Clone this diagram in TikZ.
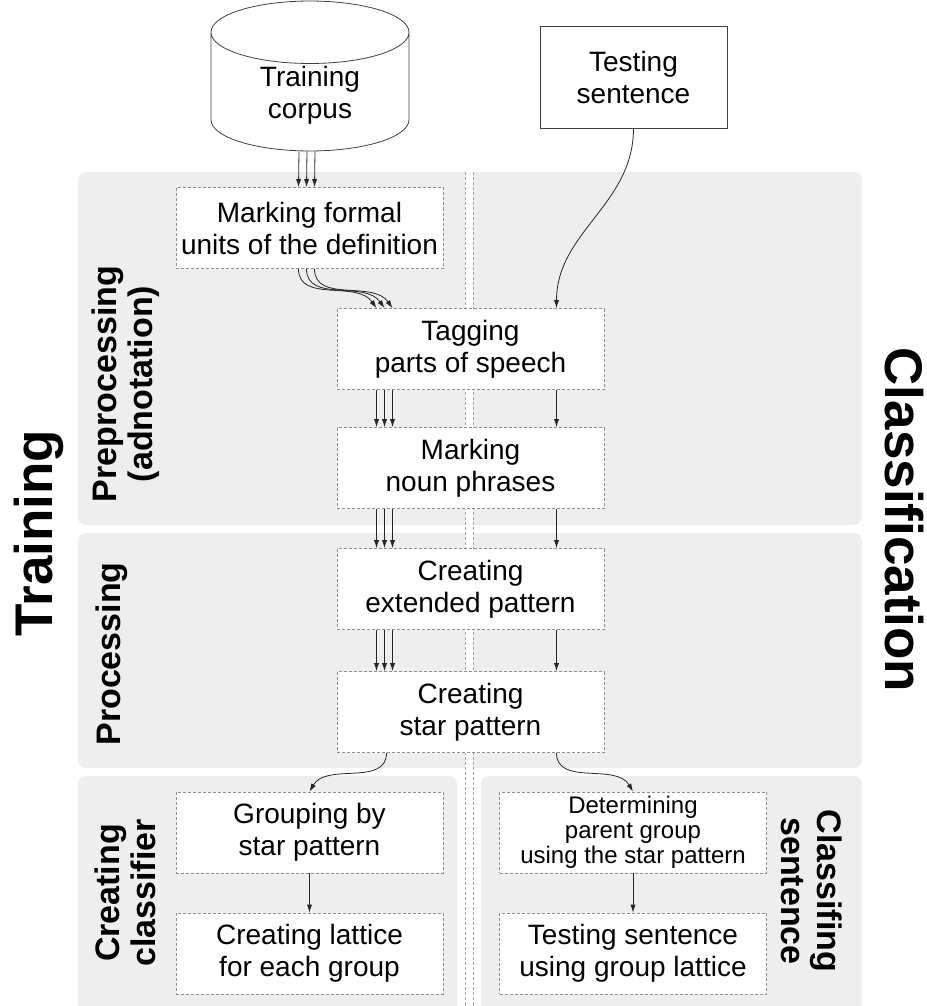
\documentclass[tikz,border=0pt]{standalone}
\usepackage{fontspec}
\setmainfont{Liberation Sans}
\usepackage{tikz}
\usetikzlibrary{arrows.meta}
\usetikzlibrary{calc}
\usetikzlibrary{shapes.geometric}

\definecolor{panelgray}{HTML}{EEEEEE}
\definecolor{boxline}{HTML}{8E8E8E}

\begin{document}
\begin{tikzpicture}[x=0.5pt, y=0.5pt,
    stage/.style = {draw=boxline, dash pattern=on 1.5pt off 1pt, fill=white, line width=0.4pt,
        minimum width=133.5pt, minimum height=40.5pt, inner sep=0pt, align=center,
        font=\fontsize{14}{16}\selectfont},
    small/.style = {font=\fontsize{12}{12.5}\selectfont},
    source/.style = {draw=black!75, line width=0.4pt, align=center, font=\fontsize{14}{16}\selectfont},
    panel/.style = {fill=panelgray, rounded corners=4pt},
    sep/.style = {draw=boxline!80, dash pattern=on 1.5pt off 1pt, line width=0.4pt},
    phase/.style = {align=center, font=\bfseries\fontsize{17}{18}\selectfont},
    side/.style = {font=\bfseries\fontsize{26.5}{28}\selectfont},
    arr/.style = {-{Latex[length=4pt,width=2.6pt]}, line width=0.4pt, black!85}]

    \useasboundingbox (0,0) rectangle (926,-1006);
    \clip (0,0) rectangle (926,-1006);

    % panels
    \path[panel] (78,-172) rectangle (862,-525);
    \path[panel] (78,-533) rectangle (862,-768);
    \path[panel] (78,-776) rectangle (457,-1030);
    \path[panel] (481,-776) rectangle (862,-1030);

    % separator
    \fill[white] (465,-172) rectangle (473,-1006);
    \foreach \x in {465,473}
        \draw[sep] (\x,-172) -- (\x,-1006);

    % inputs
    \node [source, cylinder, shape border rotate=90, aspect=0.6, inner sep=1pt, minimum width=99pt,
        minimum height=71pt, anchor=shape center] (corpus) at (310,-76) {Training\\corpus};
    \node [source, minimum width=93.5pt, minimum height=51pt] (test) at (633.5,-77) {Testing\\sentence};

    % stages
    \node [stage] (mark) at (309.5,-228) {Marking formal\\units of the definition};
    \node [stage] (tag) at (470.5,-349) {Tagging\\parts of speech};
    \node [stage] (noun) at (470.5,-468) {Marking\\noun phrases};
    \node [stage] (ext) at (470.5,-589) {Creating\\extended pattern};
    \node [stage] (star) at (470.5,-712) {Creating\\star pattern};
    \node [stage] (group) at (309.5,-832.5) {Grouping by\\star pattern};
    \node [stage] (lattice) at (309.5,-953.5) {Creating lattice\\for each group};
    \node [stage, small] (parent) at (633,-832.5) {Determining\\parent group\\using the star pattern};
    \node [stage] (check) at (633,-953.5) {Testing sentence\\using group lattice};

    % labels
    \node [side, rotate=90, anchor=base] (training) at (52,-533) {Training};
    \node [side, rotate=-90, anchor=base] (classif) at (885,-520) {Classification};
    \node [phase, rotate=90] (prep) at (126,-384) {Preprocessing\\(adnotation)};
    \node [phase, rotate=90, anchor=base] (proc) at (120,-654) {Processing};
    \node [phase, rotate=90] (build) at (125,-893) {Creating\\classifier};
    \node [phase, rotate=-90] (apply) at (812,-891) {Classifing\\sentence};

    % training flow
    \foreach \d in {-5.5,-1.5,2.5}
        \draw[arr] ([xshift=\d pt]corpus.south) -- ([xshift=\d pt]mark.north);
    \foreach \a/\b in {-5.5/-47,-1.5/-43,2.5/-39}
        \draw[arr] ([xshift=\a pt]mark.south) to[out=-90, in=125] ([xshift=\b pt]tag.north);
    \foreach \d in {-47,-43,-39} {
        \draw[arr] ([xshift=\d pt]tag.south) -- ([xshift=\d pt]noun.north);
        \draw[arr] ([xshift=\d pt]noun.south) -- ([xshift=\d pt]ext.north);
        \draw[arr] ([xshift=\d pt]ext.south) -- ([xshift=\d pt]star.north);
    }

    % classification flow
    \draw[arr] (test.south) to[out=-90, in=90] ([xshift=43pt]tag.north);
    \draw[arr] ([xshift=43pt]tag.south) -- ([xshift=43pt]noun.north);
    \draw[arr] ([xshift=43pt]noun.south) -- ([xshift=43pt]ext.north);
    \draw[arr] ([xshift=43pt]ext.south) -- ([xshift=43pt]star.north);

    \draw[arr] ([xshift=-42pt]star.south) to[out=-90, in=60] (group.north);
    \draw[arr] ([xshift=43pt]star.south) to[out=-90, in=120] (parent.north);
    \draw[arr] (group) -- (lattice);
    \draw[arr] (parent) -- (check);

\end{tikzpicture}
\end{document}
